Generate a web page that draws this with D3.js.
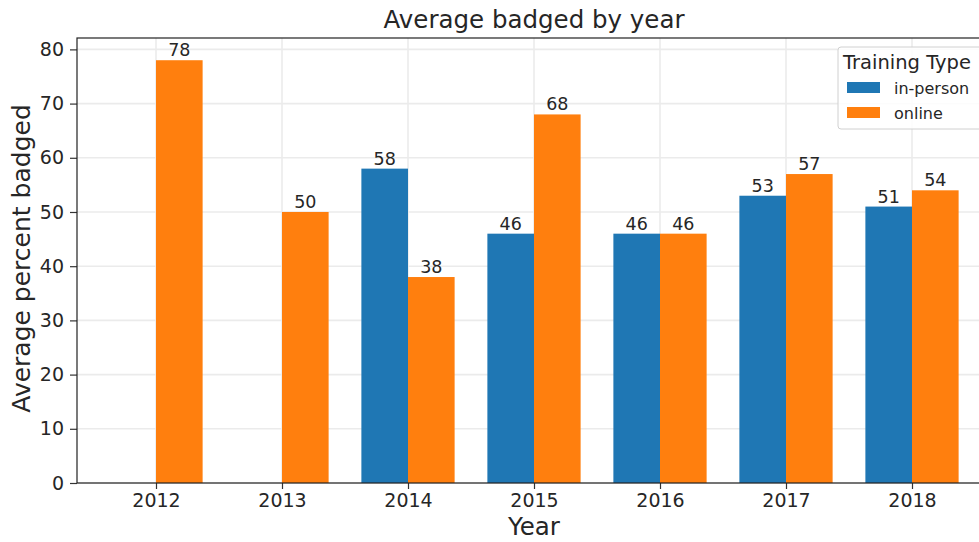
<!DOCTYPE html>
<html>
<head>
<meta charset="utf-8">
<script src="https://cdn.jsdelivr.net/npm/d3@7"></script>
<style>
  body { margin: 0; background: #fff; }
  svg text { font-family: "DejaVu Sans", sans-serif; fill: #262626; }
</style>
</head>
<body>
<svg id="chart" width="979" height="542"></svg>
<script>
// data
const years = [2012, 2013, 2014, 2015, 2016, 2017, 2018];
const inPerson = [null, null, 58, 46, 46, 53, 51];
const online = [78, 50, 38, 68, 46, 57, 54];
const yTicks = [0, 10, 20, 30, 40, 50, 60, 70, 80];
const seriesNames = ["in-person", "online"];
const seriesColors = ["#1f77b4", "#ff7f0e"];

const svg = d3.select("#chart");
const width = 979, height = 542;

let left_margin = 77;
let top_margin = 38;
let bottom_margin = 483;
let right_edge = 991;   // plot runs past the picture, as in the reference

const xScale = d3.scaleLinear()
  .domain([2012 - 0.627, 2018 + 0.627])
  .range([left_margin, right_edge]);

const yScale = d3.scaleLinear()
  .domain([0, 82.1])
  .range([bottom_margin, top_margin]);

const step = xScale(2013) - xScale(2012);
const barW = step * 0.37;

// grid
const grid = svg.append("g");
grid.selectAll(".hgrid")
  .data(yTicks)
  .enter()
  .append("line")
  .attr("x1", left_margin).attr("x2", right_edge)
  .attr("y1", d => yScale(d)).attr("y2", d => yScale(d))
  .attr("stroke", "#ebebeb")
  .attr("stroke-width", 1.6);
grid.selectAll(".vgrid")
  .data(years)
  .enter()
  .append("line")
  .attr("x1", d => xScale(d)).attr("x2", d => xScale(d))
  .attr("y1", top_margin).attr("y2", bottom_margin)
  .attr("stroke", "#ebebeb")
  .attr("stroke-width", 1.6);

// bars
const rows = years.map((y, i) => ({ year: y, vals: [inPerson[i], online[i]] }));
const barData = [];
rows.forEach(r => r.vals.forEach((v, k) => {
  if (v != null) barData.push({ year: r.year, value: v, k: k });
}));

svg.append("g").selectAll("rect")
  .data(barData)
  .enter()
  .append("rect")
  .attr("x", d => xScale(d.year) - (d.k === 0 ? barW : 0))
  .attr("y", d => yScale(d.value))
  .attr("width", barW)
  .attr("height", d => yScale(0) - yScale(d.value))
  .attr("fill", d => seriesColors[d.k]);

// bar value labels
svg.append("g").selectAll("text")
  .data(barData)
  .enter()
  .append("text")
  .attr("x", d => xScale(d.year) + (d.k === 0 ? -barW / 2 : barW / 2))
  .attr("y", d => yScale(d.value) - 4)
  .attr("text-anchor", "middle")
  .style("font-size", "17.5px")
  .text(d => d.value);

// axes
const xAxis = svg.append("g")
  .attr("transform", `translate(0,${bottom_margin})`)
  .call(d3.axisBottom(xScale).tickValues(years).tickFormat(d3.format("d")).tickSize(6).tickPadding(5));
const yAxis = svg.append("g")
  .attr("transform", `translate(${left_margin},0)`)
  .call(d3.axisLeft(yScale).tickValues(yTicks).tickSize(7).tickPadding(6));

[xAxis, yAxis].forEach(a => {
  a.select(".domain").remove();
  a.selectAll("line").attr("stroke", "#333").attr("stroke-width", 1.2);
  a.selectAll("text").style("font-size", "19px").attr("fill", "#262626");
});

// spines
svg.append("rect")
  .attr("x", left_margin)
  .attr("y", top_margin)
  .attr("width", right_edge - left_margin)
  .attr("height", bottom_margin - top_margin)
  .attr("fill", "none")
  .attr("stroke", "#222")
  .attr("stroke-width", 1.2);

// title and axis labels
svg.append("text")
  .attr("x", (left_margin + right_edge) / 2)
  .attr("y", 28)
  .attr("text-anchor", "middle")
  .style("font-size", "24.5px")
  .text("Average badged by year");

svg.append("text")
  .attr("x", (left_margin + right_edge) / 2)
  .attr("y", 535)
  .attr("text-anchor", "middle")
  .style("font-size", "24.5px")
  .text("Year");

svg.append("text")
  .attr("transform", "rotate(-90)")
  .attr("x", -(top_margin + bottom_margin) / 2 + 2)
  .attr("y", 30)
  .attr("text-anchor", "middle")
  .style("font-size", "25px")
  .text("Average percent badged");

// legend
const legend = svg.append("g").attr("transform", "translate(838,47)");
legend.append("rect")
  .attr("width", 160).attr("height", 82)
  .attr("rx", 3)
  .attr("fill", "#fff").attr("fill-opacity", 0.85)
  .attr("stroke", "#d0d0d0");
legend.append("text")
  .attr("x", 5).attr("y", 22)
  .style("font-size", "19.5px")
  .text("Training Type");
const items = legend.selectAll(".legend-item")
  .data(seriesNames)
  .enter()
  .append("g")
  .attr("transform", (d, i) => `translate(9, ${35 + i * 25})`);
items.append("rect")
  .attr("width", 33).attr("height", 11)
  .attr("fill", (d, i) => seriesColors[i]);
items.append("text")
  .attr("x", 47).attr("y", 12)
  .style("font-size", "16px")
  .text(d => d);
</script>
</body>
</html>
